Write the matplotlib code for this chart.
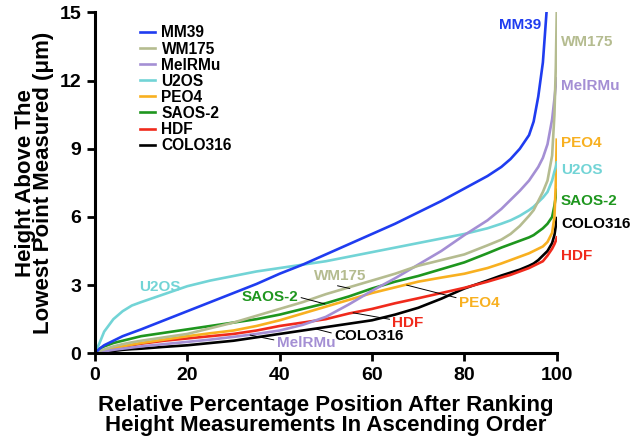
import matplotlib
matplotlib.use("Agg")
import matplotlib.pyplot as plt

plt.rcParams['font.family'] = ['Liberation Sans', 'DejaVu Sans']
plt.rcParams['font.weight'] = 'bold'

# Относительная позиция (%) после ранжирования
pct = [0, 1, 2, 4, 6, 8, 10, 15, 20, 25, 30, 35, 40, 45, 50, 55, 60, 65, 70, 75,
       80, 85, 88, 90, 92, 94, 95, 96, 97, 98, 99, 99.5, 99.8, 100]

mm39 = [0, 0.2, 0.35, 0.55, 0.75, 0.9, 1.05, 1.45, 1.85, 2.25, 2.65, 3.05, 3.5, 3.9, 4.35, 4.8, 5.25, 5.7, 6.2, 6.7,
        7.25, 7.8, 8.2, 8.55, 9.0, 9.6, 10.2, 11.3, 12.8, 15.6, 17, 17, 17, 17]
wm175 = [0, 0.1, 0.17, 0.3, 0.4, 0.48, 0.55, 0.7, 0.85, 1.1, 1.35, 1.65, 1.95, 2.25, 2.6, 2.9, 3.2, 3.5, 3.85, 4.1,
         4.35, 4.75, 5.0, 5.25, 5.6, 6.05, 6.3, 6.7, 7.1, 7.6, 8.7, 10.5, 12.6, 15.0]
melrmu = [0, 0.05, 0.08, 0.15, 0.2, 0.25, 0.3, 0.4, 0.5, 0.6, 0.72, 0.85, 1.0, 1.25, 1.6, 2.15, 2.75, 3.3, 3.9, 4.5,
          5.2, 5.85, 6.35, 6.75, 7.15, 7.6, 7.9, 8.2, 8.6, 9.2, 10.3, 11.2, 11.8, 12.1]
u2os = [0, 0.45, 0.95, 1.5, 1.85, 2.1, 2.25, 2.6, 2.95, 3.2, 3.4, 3.6, 3.75, 3.9, 4.05, 4.25, 4.45, 4.65, 4.85, 5.05,
        5.25, 5.5, 5.7, 5.85, 6.05, 6.3, 6.45, 6.65, 6.85, 7.1, 7.6, 8.0, 8.2, 8.4]
peo4 = [0, 0.05, 0.1, 0.2, 0.3, 0.38, 0.45, 0.6, 0.75, 0.88, 1.0, 1.2, 1.45, 1.75, 2.05, 2.35, 2.65, 2.9, 3.15, 3.33,
        3.5, 3.75, 3.95, 4.1, 4.25, 4.4, 4.5, 4.6, 4.7, 4.9, 5.3, 6.0, 7.5, 9.4]
saos2 = [0, 0.2, 0.3, 0.45, 0.55, 0.65, 0.75, 0.9, 1.05, 1.2, 1.35, 1.5, 1.7, 1.95, 2.2, 2.5, 2.85, 3.15, 3.4, 3.7,
         4.0, 4.4, 4.65, 4.8, 4.95, 5.1, 5.2, 5.35, 5.5, 5.7, 6.0, 6.5, 6.9, 7.2]
hdf = [0, 0.05, 0.1, 0.2, 0.28, 0.35, 0.42, 0.55, 0.65, 0.75, 0.85, 1.0, 1.2, 1.35, 1.5, 1.75, 1.95, 2.2, 2.42, 2.65,
       2.88, 3.15, 3.33, 3.45, 3.6, 3.75, 3.85, 3.95, 4.05, 4.3, 4.6, 4.8, 4.95, 5.1]
colo316 = [0, 0.03, 0.05, 0.1, 0.15, 0.18, 0.2, 0.28, 0.35, 0.45, 0.55, 0.7, 0.85, 1.0, 1.15, 1.3, 1.45, 1.7, 2.0, 2.4,
           2.85, 3.2, 3.42, 3.55, 3.68, 3.85, 3.95, 4.1, 4.3, 4.5, 4.85, 5.2, 5.6, 5.95]

names = ['MM39', 'WM175', 'MelRMu', 'U2OS', 'PEO4', 'SAOS-2', 'HDF', 'COLO316']
series = [mm39, wm175, melrmu, u2os, peo4, saos2, hdf, colo316]
colors = ['#1f3cf0', '#b5bc90', '#a48fd4', '#72d4d6', '#f8b020', '#1e961e', '#f02a1c', '#000000']

fig = plt.figure(figsize=(6.37, 4.46), dpi=100)
ax = fig.add_axes([0.149, 0.208, 0.725, 0.764])

# рисуем в обратном порядке, чтобы MM39 был сверху
for name, ys, c in reversed(list(zip(names, series, colors))):
    ax.plot(pct, ys, color=c, lw=1.9, label=name)

ax.set_xlim(0, 100)
ax.set_ylim(0, 15)
ax.set_xticks([0, 20, 40, 60, 80, 100])
ax.set_yticks([0, 3, 6, 9, 12, 15])
ax.tick_params(width=2, length=6, labelsize=14, pad=4)
for lab in ax.get_xticklabels() + ax.get_yticklabels():
    lab.set_fontweight('bold')
for s in ['top', 'right']:
    ax.spines[s].set_visible(False)
for s in ['left', 'bottom']:
    ax.spines[s].set_linewidth(2.2)

ax.set_xlabel("Relative Percentage Position After Ranking\nHeight Measurements In Ascending Order",
              fontsize=16, fontweight='bold', linespacing=0.95, labelpad=8)
ax.set_ylabel("Height Above The\nLowest Point Measured (\u03bcm)",
              fontsize=16, fontweight='bold', linespacing=0.82, labelpad=4)

handles, labels = ax.get_legend_handles_labels()
leg = ax.legend(handles[::-1], labels[::-1], loc='upper left', bbox_to_anchor=(0.097, 0.962),
                frameon=False, fontsize=11.2, handlelength=1.0, handletextpad=0.4,
                labelspacing=0.07, borderpad=0, borderaxespad=0)
for t in leg.get_texts():
    t.set_fontweight('bold')

# подписи на правом конце кривых
ax.text(96.6, 14.45, 'MM39', color=colors[0], fontsize=11, fontweight='bold', ha='right', va='center')
right_labels = [('WM175', 13.7, colors[1]), ('MelRMu', 11.76, colors[2]), ('PEO4', 9.27, colors[4]),
                ('U2OS', 8.06, colors[3]), ('SAOS-2', 6.71, colors[5]), ('COLO316', 5.7, colors[7]),
                ('HDF', 4.3, colors[6])]
for txt, y, c in right_labels:
    ax.text(100.9, y, txt, color=c, fontsize=11, fontweight='bold', ha='left', va='center', clip_on=False)

# подписи внутри графика с выносками
ax.text(14.1, 2.92, 'U2OS', color=colors[3], fontsize=11, fontweight='bold', ha='center', va='center')
callouts = [('SAOS-2', (37.9, 2.48), (49.8, 2.17), colors[5], (1, 0.5)),
            ('WM175', (53.2, 3.4), (55.2, 2.85), colors[1], (0.2, 0)),
            ('PEO4', (83.2, 2.23), (67.5, 3.0), colors[4], (0, 0.8)),
            ('HDF', (67.8, 1.35), (55.9, 1.78), colors[6], (0, 0.7)),
            ('COLO316', (59.3, 0.74), (47.8, 1.07), colors[7], (0, 0.7)),
            ('MelRMu', (45.7, 0.44), (33.6, 0.8), colors[2], (0, 0.7))]
for txt, tpos, xy, c, rp in callouts:
    ax.annotate(txt, xy=xy, xytext=tpos, color=c, fontsize=11, fontweight='bold',
                ha='center', va='center',
                arrowprops=dict(arrowstyle='-', color='black', lw=0.7, relpos=rp,
                                shrinkA=0, shrinkB=0))

fig.savefig('out.png', dpi=100)
